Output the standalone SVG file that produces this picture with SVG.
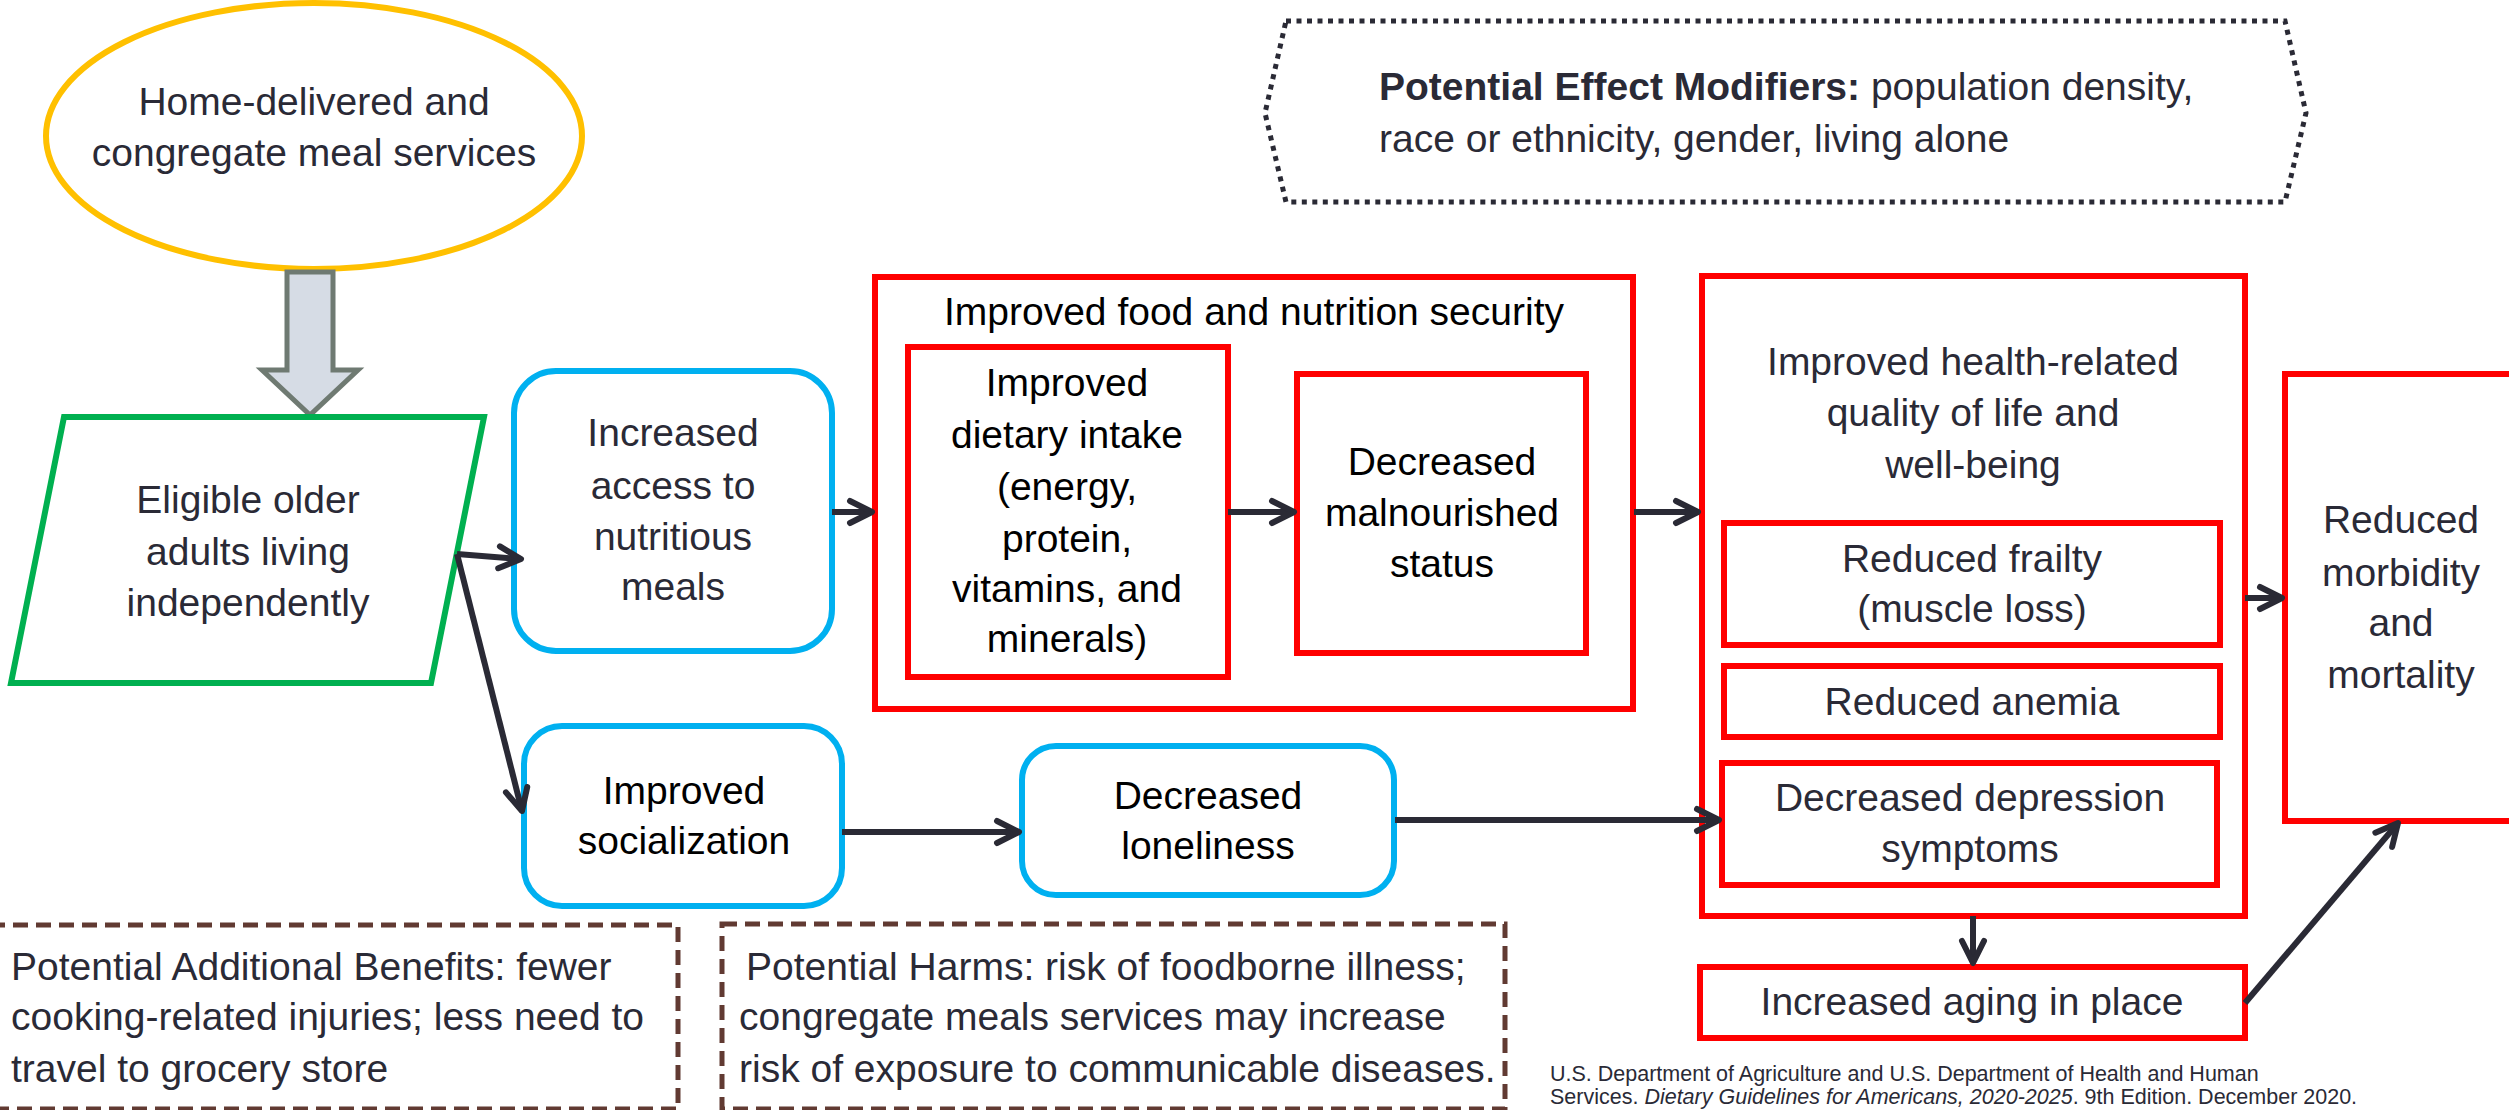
<svg xmlns="http://www.w3.org/2000/svg" width="2509" height="1110" viewBox="0 0 2509 1110">
<style>
  text { font-family: "Liberation Sans", Arial, sans-serif; font-size: 39px; fill: #2a2a36; }
  .c { text-anchor: middle; }
  .k { fill: #000; }
  .red { fill: #fff; stroke: #ff0000; stroke-width: 6; }
  .blue { fill: #fff; stroke: #00b0f0; stroke-width: 6; }
  .dash { fill: none; stroke: #613a32; stroke-width: 5; stroke-dasharray: 15 8; }
  .conn { fill: none; stroke: #2a2a35; stroke-width: 6; marker-end: url(#ah); }
  .cite { font-size: 21.5px; }
</style>
<defs>
  <marker id="ah" markerUnits="userSpaceOnUse" viewBox="-28 -16 34 32" markerWidth="34" markerHeight="32" refX="0" refY="0" orient="auto">
    <path d="M-22,-11 L0,0 L-22,11" fill="none" stroke="#2a2a35" stroke-width="6" stroke-linecap="round" stroke-linejoin="round"/>
  </marker>
</defs>
<rect width="2509" height="1110" fill="#fff"/>

<g id="meal-services">
  <ellipse cx="314" cy="136" rx="268" ry="133" fill="#fff" stroke="#ffc000" stroke-width="6"/>
  <text class="c" x="314" y="115">Home-delivered and</text>
  <text class="c" x="314" y="166">congregate meal services</text>
</g>

<g id="block-arrow">
  <polygon points="287,272 333,272 333,370 358,370 310,415 262,370 287,370" fill="#d6dce5" stroke="#6f7a72" stroke-width="5"/>
</g>

<g id="eligible-adults">
  <polygon points="64,417 484,417 431,683 11,683" fill="#fff" stroke="#00b050" stroke-width="6"/>
  <text class="c" x="248" y="513">Eligible older</text>
  <text class="c" x="248" y="565">adults living</text>
  <text class="c" x="248" y="616">independently</text>
</g>

<g id="access">
  <rect class="blue" x="514" y="371" width="318" height="280" rx="42"/>
  <text class="c" x="673" y="446">Increased</text>
  <text class="c" x="673" y="499">access to</text>
  <text class="c" x="673" y="550">nutritious</text>
  <text class="c" x="673" y="600">meals</text>
</g>

<g id="socialization">
  <rect class="blue" x="524" y="726" width="318" height="180" rx="38"/>
  <text class="c k" x="684" y="804">Improved</text>
  <text class="c k" x="684" y="854">socialization</text>
</g>

<g id="loneliness">
  <rect class="blue" x="1022" y="746" width="372" height="149" rx="34"/>
  <text class="c k" x="1208" y="809">Decreased</text>
  <text class="c k" x="1208" y="859">loneliness</text>
</g>

<g id="food-security">
  <rect class="red" x="875" y="277" width="758" height="432"/>
  <text class="c k" x="1254" y="325">Improved food and nutrition security</text>
</g>

<g id="dietary-intake">
  <rect class="red" x="908" y="347" width="320" height="330"/>
  <text class="c k" x="1067" y="396">Improved</text>
  <text class="c k" x="1067" y="448">dietary intake</text>
  <text class="c k" x="1067" y="500">(energy,</text>
  <text class="c k" x="1067" y="552">protein,</text>
  <text class="c k" x="1067" y="602">vitamins, and</text>
  <text class="c k" x="1067" y="652">minerals)</text>
</g>

<g id="malnourished">
  <rect class="red" x="1297" y="374" width="289" height="279"/>
  <text class="c k" x="1442" y="475">Decreased</text>
  <text class="c k" x="1442" y="526">malnourished</text>
  <text class="c k" x="1442" y="577">status</text>
</g>

<g id="quality-of-life">
  <rect class="red" x="1702" y="276" width="543" height="640"/>
  <text class="c" x="1973" y="375">Improved health-related</text>
  <text class="c" x="1973" y="426">quality of life and</text>
  <text class="c" x="1973" y="478">well-being</text>
</g>

<g id="frailty">
  <rect class="red" x="1724" y="523" width="496" height="122"/>
  <text class="c" x="1972" y="572">Reduced frailty</text>
  <text class="c" x="1972" y="622">(muscle loss)</text>
</g>

<g id="anemia">
  <rect class="red" x="1724" y="666" width="496" height="71"/>
  <text class="c" x="1972" y="715">Reduced anemia</text>
</g>

<g id="depression">
  <rect class="red" x="1722" y="763" width="495" height="122"/>
  <text class="c" x="1970" y="811">Decreased depression</text>
  <text class="c" x="1970" y="862">symptoms</text>
</g>

<g id="aging-in-place">
  <rect class="red" x="1700" y="967" width="545" height="71"/>
  <text class="c" x="1972" y="1015">Increased aging in place</text>
</g>

<g id="morbidity">
  <rect class="red" x="2285" y="374" width="260" height="447"/>
  <text class="c" x="2401" y="533">Reduced</text>
  <text class="c" x="2401" y="586">morbidity</text>
  <text class="c" x="2401" y="636">and</text>
  <text class="c" x="2401" y="688">mortality</text>
</g>

<g id="effect-modifiers">
  <polygon points="1286,21 2285,21 2306,113 2285,202 1286,202 1265,113" fill="none" stroke="#2a2a35" stroke-width="5" stroke-dasharray="5 5.5"/>
  <text x="1379" y="100"><tspan font-weight="bold">Potential Effect Modifiers:</tspan> population density,</text>
  <text x="1379" y="152">race or ethnicity, gender, living alone</text>
</g>

<g id="additional-benefits">
  <rect class="dash" x="-10" y="925" width="688" height="184"/>
  <text x="11" y="980">Potential Additional Benefits: fewer</text>
  <text x="11" y="1030">cooking-related injuries; less need to</text>
  <text x="11" y="1082">travel to grocery store</text>
</g>

<g id="potential-harms">
  <rect class="dash" x="722" y="924" width="783" height="185"/>
  <text x="746" y="980">Potential Harms: risk of foodborne illness;</text>
  <text x="739" y="1030">congregate meals services may increase</text>
  <text x="739" y="1082">risk of exposure to communicable diseases.</text>
</g>

<g id="citation">
  <text class="cite" x="1550" y="1081">U.S. Department of Agriculture and U.S. Department of Health and Human</text>
  <text class="cite" x="1550" y="1104">Services. <tspan font-style="italic">Dietary Guidelines for Americans, 2020-2025</tspan>. 9th Edition. December 2020.</text>
</g>

<g id="connectors">
  <path class="conn" d="M457,554 L521,559"/>
  <path class="conn" d="M457,554 L522,811"/>
  <path class="conn" d="M842,832 L1019,832" stroke-width="7"/>
  <path class="conn" d="M1395,820 L1719,820" stroke-width="7"/>
  <path class="conn" d="M832,512 L872,512"/>
  <path class="conn" d="M1228,512 L1294,512"/>
  <path class="conn" d="M1634,512 L1698,512"/>
  <path class="conn" d="M2245,598 L2282,598"/>
  <path class="conn" d="M1973,916 L1973,963"/>
  <path class="conn" d="M2245,1003 L2398,823"/>
</g>
</svg>
